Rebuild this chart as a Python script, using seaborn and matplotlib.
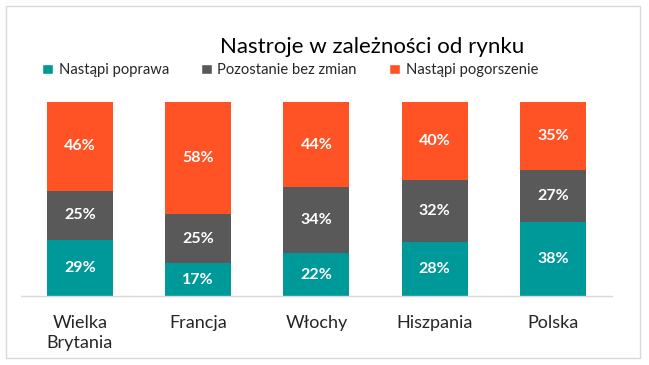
import numpy as np
import pandas as pd
import seaborn as sns
import matplotlib.pyplot as plt
from matplotlib.patches import Rectangle, Patch

countries = ["Wielka\nBrytania", "Francja", "Włochy", "Hiszpania", "Polska"]
poprawa = [29, 17, 22, 28, 38]
bez_zmian = [25, 25, 34, 32, 27]
pogorszenie = [46, 58, 44, 40, 35]

series_names = ["Nastąpi poprawa", "Pozostanie bez zmian", "Nastąpi pogorszenie"]
colors = ["#009999", "#595959", "#FF5325"]

sns.set_theme(style="white")
plt.rcParams['font.family'] = ['Lato', 'DejaVu Sans']

fig = plt.figure(figsize=(6.49, 3.65), dpi=100)
ax = fig.add_axes([0.032, 0.189, 0.911, 0.532])

df = pd.DataFrame({"kraj": countries, "p": poprawa, "b": bez_zmian, "g": pogorszenie})
bottom = np.zeros(len(countries))
for col, name, color in zip(["p", "b", "g"], series_names, colors):
    sns.barplot(data=df, x="kraj", y=col, color=color, width=0.56,
                bottom=bottom, ax=ax, saturation=1, label=name, linewidth=0)
    for i, v in enumerate(df[col]):
        ax.text(i, bottom[i] + v / 2, f"{v}%", ha="center", va="center",
                color="white", fontsize=11.5, fontweight="bold")
    bottom = bottom + df[col].values

ax.set_ylim(0, 100)
ax.set_xlim(-0.5, 4.5)
ax.set_yticks([])
ax.set_xlabel("")
ax.set_ylabel("")
ax.tick_params(axis="x", length=0, labelsize=13, pad=14)
for lbl in ax.get_xticklabels():
    lbl.set_va("top")
    lbl.set_linespacing(1.3)
sns.despine(ax=ax, left=True, top=True, right=True)
ax.spines["bottom"].set_color("#d9d9d9")
ax.spines["bottom"].set_linewidth(1)

fig.text(0.573, 0.872, "Nastroje w zależności od rynku", ha="center", va="center",
         fontsize=16, color="#000000")

handles = [Patch(facecolor=c, label=n) for c, n in zip(colors, series_names)]
ax.legend(handles=handles, loc="center left", bbox_to_anchor=(0.045, 0.808),
          bbox_transform=fig.transFigure, ncol=3, frameon=False, fontsize=10.6,
          handlelength=0.7, handleheight=0.7, handletextpad=0.4, columnspacing=2.2)

fig.patches.append(Rectangle((6 / 649, 1 - 358 / 365), 634 / 649, 352 / 365,
                             transform=fig.transFigure, fill=False,
                             edgecolor="#d9d9d9", linewidth=1))

plt.savefig("out.png", dpi=100)
plt.close(fig)
